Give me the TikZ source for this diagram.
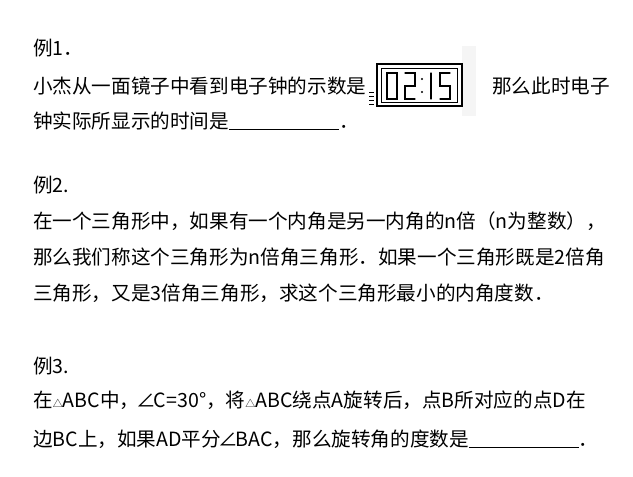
\documentclass[tikz,border=0pt]{standalone}
\usepackage{fontspec}
\setmainfont{Noto Sans CJK SC}
\begin{document}
\begin{tikzpicture}[x=1pt,y=-1pt,
 txt/.style={anchor=base west,inner sep=0pt,font=\fontsize{19.6}{21}\selectfont},
 seg/.style={line width=1.1pt,line cap=round}]
\useasboundingbox[fill=white] (0,0) rectangle (633,477);
\newcommand\tri{{\fontsize{10}{10}\selectfont △}}
\newcommand\ang{\kern-3pt∠\kern-2pt}
\node[txt] (a1) at (33,55) {例1．};
\node[txt] (a2) at (33,93) {小杰从一面镜子中看到电子钟的示数是};
\node[txt] (a3) at (492,93) {那么此时电子};
\node[txt] (a4) at (33,128) {钟实际所显示的时间是\rule[-1.5pt]{110pt}{0.6pt}．};
\node[txt] (b1) at (33,192) {例2.};
\node[txt] (b2) at (33,228) {在一个三角形中，如果有一个内角是另一内角的n倍（n为整数），};
\node[txt] (b3) at (33,264) {那么我们称这个三角形为n倍角三角形．如果一个三角形既是2倍角};
\node[txt] (b4) at (33,300) {三角形，又是3倍角三角形，求这个三角形最小的内角度数．};
\node[txt] (c1) at (33,373) {例3.};
\node[txt] (c2) at (33,407) {在\tri ABC中，\ang C=30°，将\tri ABC绕点A旋转后，点B所对应的点D在};
\node[txt] (c3) at (33,446) {边BC上，如果AD平分\ang BAC，那么旋转角的度数是\rule[-1.5pt]{110pt}{0.6pt}．};
% clock
\fill[gray!8] (462,46) rectangle (476,116);
\node[draw,line width=1.4pt,minimum width=85pt,minimum height=42pt,inner sep=0pt] (clk) at (419.5,85) {};
\node[draw,line width=1pt,minimum width=76pt,minimum height=34pt,inner sep=0pt] (clki) at (clk.center) {};
\foreach \y in {92,96,100,104} \draw[line width=1pt] (369,\y) -- (374,\y);
\draw[seg] (387,73) -- (397,73) -- (397,99) -- (387,99) -- cycle;
\draw[seg] (405,73) -- (415,73) -- (415,86) -- (405,86) -- (405,99) -- (415,99);
\fill (422,79) circle (1.2pt) (422,92) circle (1.2pt);
\draw[seg] (431,73) -- (431,99);
\draw[seg] (450,73) -- (440,73) -- (440,86) -- (450,86) -- (450,99) -- (440,99);
\end{tikzpicture}
\end{document}
